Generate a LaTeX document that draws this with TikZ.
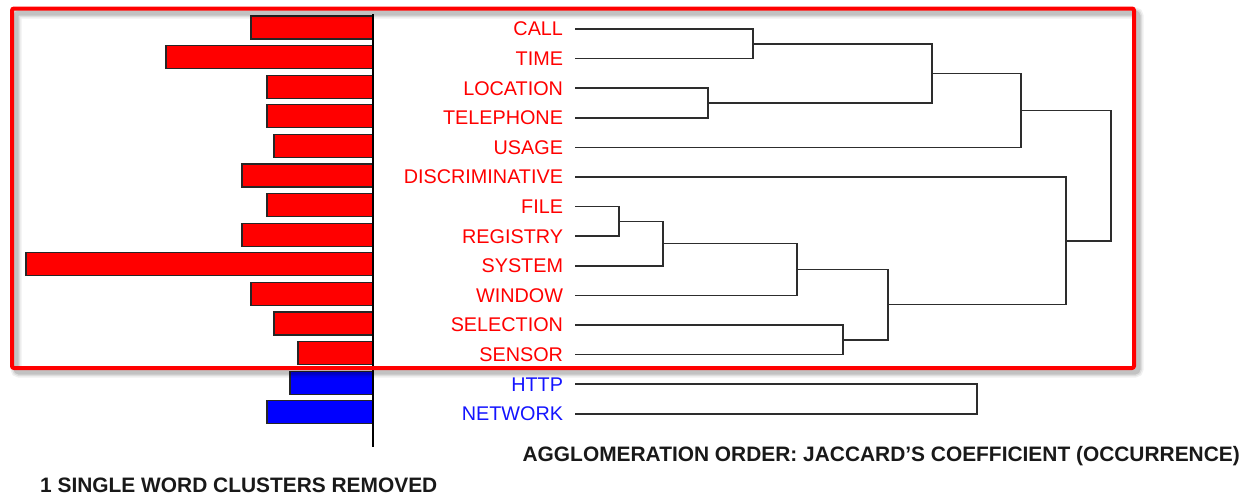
\documentclass[tikz,border=0pt]{standalone}
\usepackage{fontspec}
\setmainfont{Liberation Sans}
\usetikzlibrary{positioning}
\definecolor{wordred}{RGB}{255,0,0}
\definecolor{wordblue}{RGB}{20,20,255}
\definecolor{treegray}{RGB}{45,45,45}
\tikzset{
  word/.style={anchor=east, inner xsep=0pt, outer xsep=12pt, font=\fontsize{19.8}{22}\selectfont},
  redword/.style={word, text=wordred},
  blueword/.style={word, text=wordblue},
  tree/.style={draw=treegray, line width=1.7pt},
  bar/.style={draw=black!85, line width=1.3pt},
  caption/.style={font=\fontsize{20.9}{24}\selectfont\bfseries, text=black!90, inner sep=0pt}
}
\begin{document}
\begin{tikzpicture}[x=1pt, y=-1pt]
      \useasboundingbox (0,0) rectangle (1248,496);

      % Draw the frequency bars
      \foreach \y/\l/\c in {29/251/wordred, 58.6/166/wordred, 88.2/267/wordred,
          117.8/267/wordred, 147.4/274/wordred, 177/242/wordred, 206.6/267/wordred,
          236.2/242/wordred, 265.8/26/wordred, 295.4/251/wordred, 325/274/wordred,
          354.6/298/wordred, 384.2/290/blue, 413.8/267/blue}
        \draw[bar, fill=\c] (\l,\y-13) rectangle (373,\y+10);
      \draw[line width=1.3pt] (373,14) -- (373,447);

      % Draw the words
      \node[redword] at (575,29) (call) {CALL};
      \node[redword] at (575,58.6) (time) {TIME};
      \node[redword] at (575,88.2) (location) {LOCATION};
      \node[redword] at (575,117.8) (telephone) {TELEPHONE};
      \node[redword] at (575,147.4) (usage) {USAGE};
      \node[redword] at (575,177) (discr) {DISCRIMINATIVE};
      \node[redword] at (575,206.6) (file) {FILE};
      \node[redword] at (575,236.2) (registry) {REGISTRY};
      \node[redword] at (575,265.8) (system) {SYSTEM};
      \node[redword] at (575,295.4) (window) {WINDOW};
      \node[redword] at (575,325) (selection) {SELECTION};
      \node[redword] at (575,354.6) (sensor) {SENSOR};
      \node[blueword] at (575,384.2) (http) {HTTP};
      \node[blueword] at (575,413.8) (network) {NETWORK};

      % Merge points of the tree
      \coordinate (ct) at (753,43.8);
      \coordinate (lt) at (708,103);
      \coordinate (ctlt) at (932,73.4);
      \coordinate (upper) at (1021,110.4);
      \coordinate (fr) at (619,221.4);
      \coordinate (frs) at (663,243.6);
      \coordinate (frsw) at (797,269.5);
      \coordinate (ss) at (843,339.8);
      \coordinate (lower) at (888,304.6);
      \coordinate (dlower) at (1066,240.8);
      \coordinate (root) at (1111,175.6);
      \coordinate (hn) at (977,399);

      % Draw the tree
      \draw[tree] (call.east) -| (ct) |- (time.east);
      \draw[tree] (location.east) -| (lt) |- (telephone.east);
      \draw[tree] (ct) -| (ctlt) |- (lt);
      \draw[tree] (ctlt) -| (upper) |- (usage.east);
      \draw[tree] (file.east) -| (fr) |- (registry.east);
      \draw[tree] (fr) -| (frs) |- (system.east);
      \draw[tree] (frs) -| (frsw) |- (window.east);
      \draw[tree] (selection.east) -| (ss) |- (sensor.east);
      \draw[tree] (frsw) -| (lower) |- (ss);
      \draw[tree] (discr.east) -| (dlower) |- (lower);
      \draw[tree] (upper) -| (root) |- (dlower);
      \draw[tree] (http.east) -| (hn) |- (network.east);

      % Draw the highlight frame with its shadow
      \foreach \w/\o in {11/0.06, 8/0.08, 5/0.12}
        \draw[line width=\w pt, black, opacity=\o, rounded corners=3pt] (16,13) rectangle (1138,372);
      \draw[line width=4pt, wordred, rounded corners=2pt] (12,8.5) rectangle (1134,368);

      % Draw the captions
      \node[caption, anchor=east] at (1240,456) (order) {AGGLOMERATION ORDER: JACCARD'S COEFFICIENT (OCCURRENCE)};
      \node[caption, anchor=west] at (40,485) (removed) {1 SINGLE WORD CLUSTERS REMOVED};
    \end{tikzpicture}
\end{document}
